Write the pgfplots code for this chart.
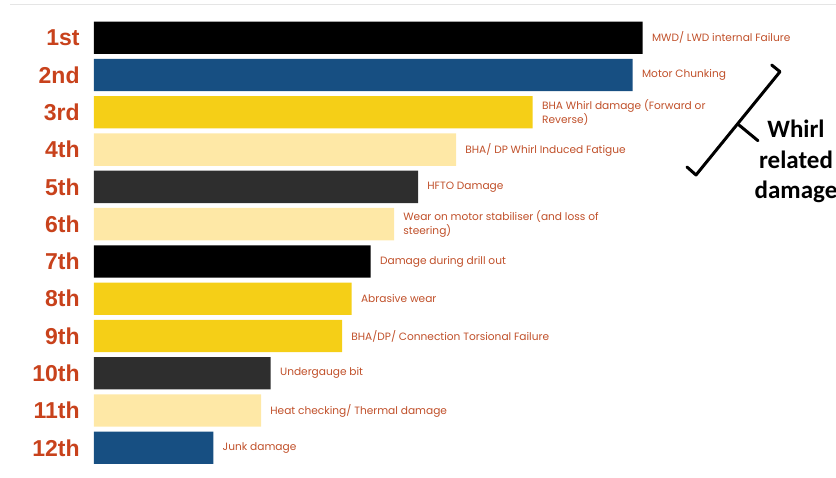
\documentclass[border=0pt]{standalone}
\usepackage{fontspec}
\usepackage{pgfplots}
\pgfplotsset{compat=1.18}
\newfontfamily\barfont{Poppins}
\newfontfamily\catfont{Liberation Sans}
\newfontfamily\annfont{Carlito}
\definecolor{cblack}{HTML}{000000}
\definecolor{cblue}{HTML}{174F82}
\definecolor{cyellow}{HTML}{F5CF17}
\definecolor{clight}{HTML}{FEE8A6}
\definecolor{cgrey}{HTML}{2E2E2E}
\definecolor{catcol}{HTML}{C8421C}
\definecolor{labcol}{HTML}{C0502A}
\begin{document}
\begin{tikzpicture}
\begin{axis}[
  at={(47pt,0pt)}, anchor=south west,
  scale only axis, width=371pt, height=238.5pt,
  xmin=0, xmax=742, ymin=-0.0142, ymax=12.784, y dir=reverse,
  xbar, bar width=0.867, bar shift=0pt,
  axis line style={draw=none}, major tick length=0pt, xtick=\empty,
  ytick={1,...,12},
  yticklabels={1st,2nd,3rd,4th,5th,6th,7th,8th,9th,10th,11th,12th},
  yticklabel style={font=\catfont\bfseries\fontsize{11.5}{12}\selectfont, text=catcol, anchor=east, inner sep=0pt, xshift=-7pt},
  clip=false,
  point meta=explicit symbolic,
  nodes near coords,
  every node near coord/.append style={anchor=west, align=left, inner sep=0pt, xshift=4.5pt, font=\barfont\fontsize{5.3}{7}\selectfont, text=labcol},
]
\addplot[fill=cblack, draw=none] coordinates {(548.7,1) [{MWD/ LWD internal Failure}] (276.7,7) [{Damage during drill out}]};
\addplot[fill=cblue, draw=none] coordinates {(538.7,2) [{Motor Chunking}] (119.3,12) [{Junk damage}]};
\addplot[fill=cyellow, draw=none] coordinates {(438.7,3) [{BHA Whirl damage (Forward or\\Reverse)}] (257.7,8) [{Abrasive wear}] (248,9) [{BHA/DP/ Connection Torsional Failure}]};
\addplot[fill=clight, draw=none] coordinates {(362,4) [{BHA/ DP Whirl Induced Fatigue}] (300,6) [{Wear on motor stabiliser (and loss of\\steering)}] (167,11) [{Heat checking/ Thermal damage}]};
\addplot[fill=cgrey, draw=none] coordinates {(324,5) [{HFTO Damage}] (176.7,10) [{Undergauge bit}]};
% decorative top rule
\draw[color=black!10, line width=0.5pt] (axis cs:-84,0.1065) -- (axis cs:742,0.1065);
% bracket annotation
\draw[line width=1.5pt, line cap=round, line join=round] (axis cs:677.7,1.730) -- (axis cs:686,1.910) -- (axis cs:602,4.681) -- (axis cs:593,4.467);
\draw[line width=1.5pt, line cap=round] (axis cs:645,3.340) -- (axis cs:664,3.761);
\node[anchor=base, inner sep=0pt, font=\annfont\bfseries\fontsize{12.5}{15}\selectfont] at (axis cs:702,3.662) {Whirl};
\node[anchor=base, inner sep=0pt, font=\annfont\bfseries\fontsize{12.5}{15}\selectfont] at (axis cs:702,4.494) {related};
\node[anchor=base, inner sep=0pt, font=\annfont\bfseries\fontsize{12.5}{15}\selectfont] at (axis cs:702,5.299) {damage};
\end{axis}
\pgfresetboundingbox
\useasboundingbox (0,0) rectangle (418pt,238.5pt);
\end{tikzpicture}
\end{document}
